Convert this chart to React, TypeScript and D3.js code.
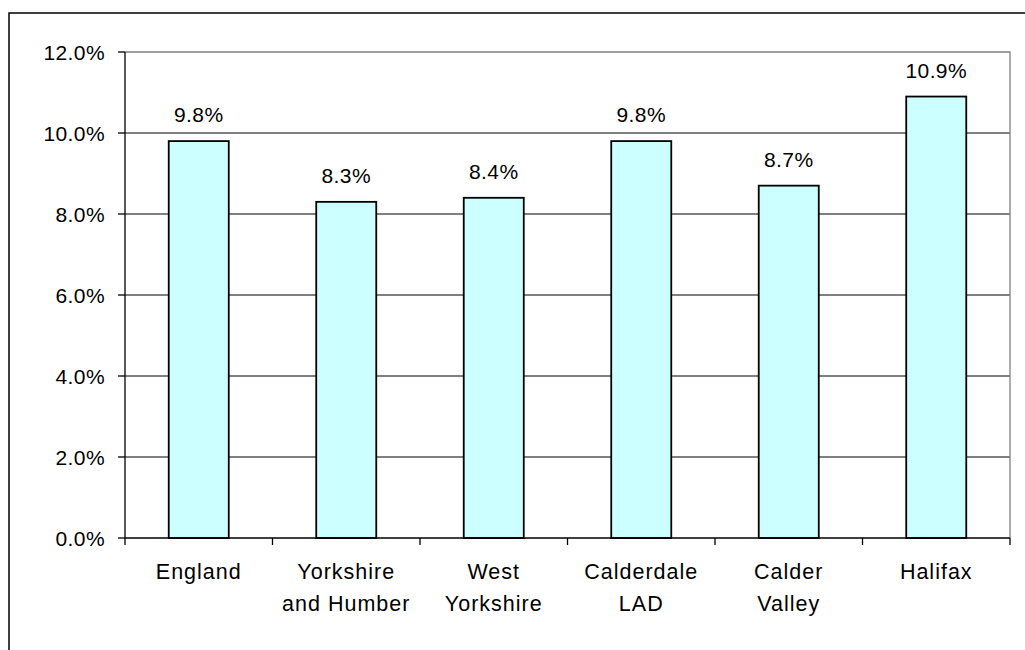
import React from "react";
import * as d3 from "d3";

const categories: string[][] = [
  ["England"],
  ["Yorkshire", "and Humber"],
  ["West", "Yorkshire"],
  ["Calderdale", "LAD"],
  ["Calder", "Valley"],
  ["Halifax"],
];
const values: number[] = [9.8, 8.3, 8.4, 9.8, 8.7, 10.9];
const yTicks: number[] = [0, 2, 4, 6, 8, 10, 12];

const W = 1025;
const H = 650;
const plot = { left: 125, right: 1010, top: 52, bottom: 538 };
const FONT = "Arial, 'Liberation Sans', sans-serif";

export default function App() {
  const keys = categories.map((_, i) => String(i));
  const x = d3
    .scaleBand<string>()
    .domain(keys)
    .range([plot.left, plot.right])
    .paddingInner(0)
    .paddingOuter(0);
  const y = d3.scaleLinear().domain([0, 12]).range([plot.bottom, plot.top]);
  const bw = x.bandwidth() * 0.407;

  return (
    <div style={{ position: "absolute", left: 0, top: 0 }}>
      <svg width={W} height={H} style={{ display: "block", background: "#fff" }}>
        <rect x={9} y={13} width={1040} height={660} fill="#fff" stroke="#000" strokeWidth={1.5} />
        {/* gridlines */}
        {yTicks.map((t) =>
          t === 0 || t === 12 ? null : (
            <line key={"g" + t} x1={plot.left} x2={plot.right} y1={y(t)} y2={y(t)} stroke="#000" strokeWidth={1} />
          )
        )}
        {/* plot border top/right gray */}
        <polyline
          points={`${plot.left},${plot.top} ${plot.right},${plot.top} ${plot.right},${plot.bottom}`}
          fill="none"
          stroke="#808080"
          strokeWidth={1.3}
        />
        {/* bars */}
        {values.map((v, i) => {
          const cx = (x(String(i)) as number) + x.bandwidth() / 2;
          return (
            <g key={"b" + i}>
              <rect
                x={cx - bw / 2}
                y={y(v)}
                width={bw}
                height={plot.bottom - y(v)}
                fill="#CCFFFF"
                stroke="#000"
                strokeWidth={1.8}
              />
              <text
                x={cx}
                y={y(v) - 19}
                textAnchor="middle"
                fontFamily={FONT}
                fontSize={21}
                letterSpacing={0.4}
                fill="#000"
              >
                {v.toFixed(1) + "%"}
              </text>
            </g>
          );
        })}
        {/* axes */}
        <line x1={plot.left} x2={plot.left} y1={plot.top} y2={plot.bottom} stroke="#000" strokeWidth={1.3} />
        <line x1={plot.left} x2={plot.right} y1={plot.bottom} y2={plot.bottom} stroke="#000" strokeWidth={1.3} />
        {yTicks.map((t) => (
          <g key={"yt" + t}>
            <line x1={plot.left - 7} x2={plot.left} y1={y(t)} y2={y(t)} stroke="#000" strokeWidth={1.3} />
            <text
              x={plot.left - 20}
              y={y(t) + 7.5}
              textAnchor="end"
              fontFamily={FONT}
              fontSize={21}
              letterSpacing={0.4}
              fill="#000"
            >
              {t.toFixed(1) + "%"}
            </text>
          </g>
        ))}
        {keys.concat(["end"]).map((k, i) => {
          const px = i < keys.length ? (x(k) as number) : plot.right;
          return (
            <line key={"xt" + i} x1={px} x2={px} y1={plot.bottom} y2={plot.bottom + 7} stroke="#000" strokeWidth={1.3} />
          );
        })}
        {categories.map((lines, i) => {
          const cx = (x(String(i)) as number) + x.bandwidth() / 2;
          return (
            <text key={"c" + i} textAnchor="middle" fontFamily={FONT} fontSize={21.5} letterSpacing={1} fill="#000">
              {lines.map((ln, j) => (
                <tspan key={j} x={cx} y={579 + j * 32}>
                  {ln}
                </tspan>
              ))}
            </text>
          );
        })}
      </svg>
    </div>
  );
}
